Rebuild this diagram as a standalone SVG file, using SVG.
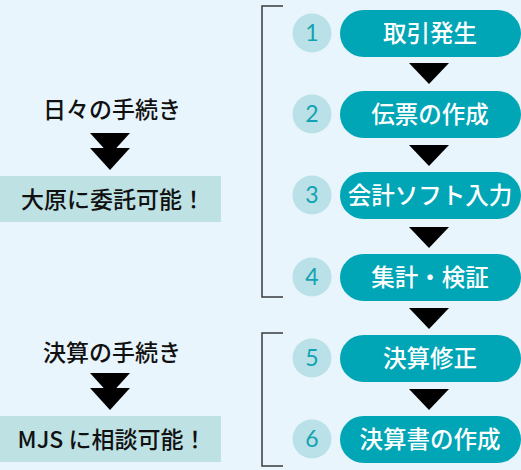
<svg xmlns="http://www.w3.org/2000/svg" width="521" height="470" viewBox="0 0 521 470">
<style>
.bg{fill:#E9F5FC}
.pill{fill:#00A6B6}
.circ{fill:#B9E1E7}
.num{font-family:"Lato","Noto Sans",sans-serif;font-weight:400;font-size:23px;fill:#12A3B2;text-anchor:middle}
.pt{font-family:"Noto Sans CJK JP",sans-serif;font-weight:500;font-size:23.5px;fill:#ffffff;text-anchor:middle}
.lt{font-family:"Noto Sans CJK JP",sans-serif;font-weight:500;font-size:23px;fill:#111111;text-anchor:middle}
.box{fill:#BEE1E4}
.tri{fill:#000000}
.br{fill:none;stroke:#3a3a3a;stroke-width:1.5}
</style>
<rect class="bg" x="0" y="0" width="521" height="470"/>
<g id="connectors">
<polygon class="tri" points="409,63 449,63 429,84"/>
<polygon class="tri" points="409,145 449,145 429,166"/>
<polygon class="tri" points="409,227 449,227 429,248"/>
<polygon class="tri" points="409,308 449,308 429,329"/>
<polygon class="tri" points="409,389 449,389 429,410"/>
<polygon class="tri" points="90,133 130,133 110,155"/>
<polygon class="tri" points="90,148 130,148 110,170"/>
<polygon class="tri" points="90,373 130,373 110,395"/>
<polygon class="tri" points="90,388 130,388 110,410"/>
<path class="br" d="M283,6 H262 V297 H283"/>
<path class="br" d="M283,333 H262 V466 H283"/>
</g>
<g id="step1"><circle class="circ" cx="312" cy="33" r="19.5"/><text class="num" x="312" y="41">1</text><rect class="pill" x="340" y="10" width="181" height="47" rx="23.5"/><text class="pt" x="430" y="42">取引発生</text></g>
<g id="step2"><circle class="circ" cx="312" cy="114" r="19.5"/><text class="num" x="312" y="122">2</text><rect class="pill" x="340" y="91" width="181" height="47" rx="23.5"/><text class="pt" x="430" y="123">伝票の作成</text></g>
<g id="step3"><circle class="circ" cx="312" cy="195" r="19.5"/><text class="num" x="312" y="203">3</text><rect class="pill" x="340" y="172" width="181" height="47" rx="23.5"/><text class="pt" x="430" y="204">会計ソフト入力</text></g>
<g id="step4"><circle class="circ" cx="312" cy="277" r="19.5"/><text class="num" x="312" y="285">4</text><rect class="pill" x="340" y="254" width="181" height="47" rx="23.5"/><text class="pt" x="430" y="286">集計・検証</text></g>
<g id="step5"><circle class="circ" cx="312" cy="358" r="19.5"/><text class="num" x="312" y="366">5</text><rect class="pill" x="340" y="335" width="181" height="47" rx="23.5"/><text class="pt" x="430" y="367">決算修正</text></g>
<g id="step6"><circle class="circ" cx="312" cy="439" r="19.5"/><text class="num" x="312" y="447">6</text><rect class="pill" x="340" y="416" width="181" height="47" rx="23.5"/><text class="pt" x="430" y="448">決算書の作成</text></g>
<g id="daily"><text class="lt" x="112" y="118">日々の手続き</text></g>
<g id="ohara"><rect class="box" x="0" y="176" width="221" height="46"/><text class="lt" x="113" y="208">大原に委託可能！</text></g>
<g id="closing"><text class="lt" x="112" y="361">決算の手続き</text></g>
<g id="mjs"><rect class="box" x="0" y="416" width="221" height="46"/><text class="lt" x="112" y="448">MJS に相談可能！</text></g>
</svg>
